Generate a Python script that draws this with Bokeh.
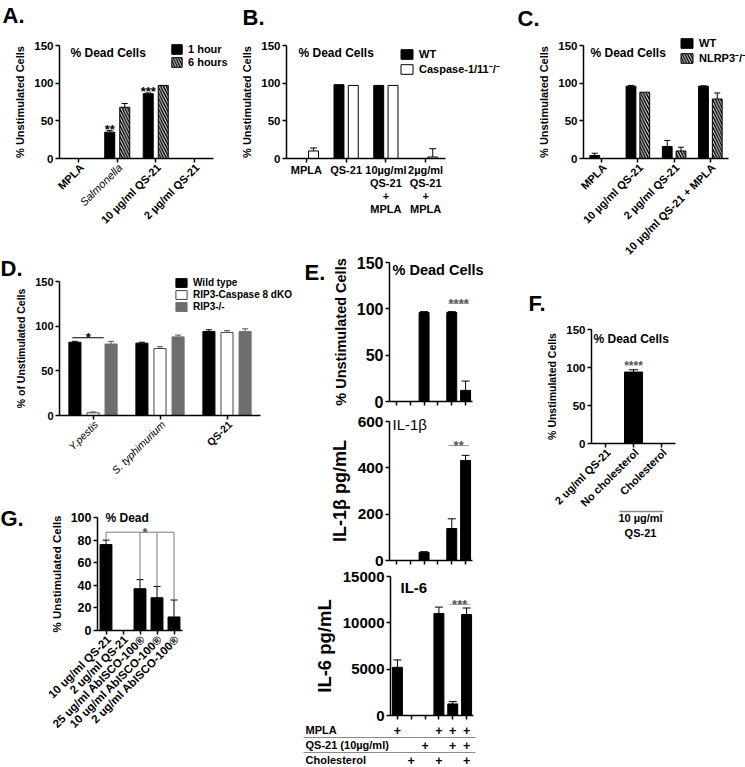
import math
from bokeh.plotting import figure
from bokeh.layouts import column, row
from bokeh.models import (ColumnDataSource, Range1d, Whisker, TeeHead, Legend, LegendItem,
                          FixedTicker)
from bokeh.embed import file_html
from bokeh.resources import INLINE
from bokeh.core.properties import value

FONT = "Liberation Sans"
ANG = math.pi / 4

# ---------------- data ----------------
a_cats = ["MPLA", "Salmonella", "10 µg/ml QS-21", "2 µg/ml QS-21"]
a_1h = [0, 35, 86, 0]
a_1h_err = [0, 2, 1, 0]
a_1h_sig = ["", "**", "***", ""]
a_6h = [0, 68, 97, 0]
a_6h_err = [0, 5, 0, 0]

b_cats = ["MPLA", "QS-21", "10µg/ml\nQS-21\n+\nMPLA", "2µg/ml\nQS-21\n+\nMPLA"]
b_wt = [0, 98, 97, 0]
b_wt_err = [0, 0, 0, 0]
b_casp = [10, 97, 97, 2]
b_casp_err = [4, 0, 0, 11]

c_cats = ["MPLA", "10 µg/ml QS-21", "2 µg/ml QS-21", "10 µg/ml QS-21 + MPLA"]
c_wt = [4, 96, 16, 96]
c_wt_err = [3, 1, 8, 0.5]
c_nlrp3 = [0, 88, 10, 79]
c_nlrp3_err = [0, 0, 5, 8]

d_cats = ["Y.pestis", "S. typhimurium", "QS-21"]
d_wt = [82, 81, 94]
d_wt_err = [1, 1, 2]
d_dko = [3, 75, 93]
d_dko_err = [1, 2, 2]
d_rip3 = [80, 88, 94]
d_rip3_err = [3, 2, 3]

e_cats = ["MPLA", "Cholesterol", "QS-21", "MPLA + Cholesterol", "MPLA + QS-21",
          "MPLA + QS-21 + Cholesterol"]
e_dead = [0, 0, 96, 0, 96, 12]
e_dead_err = [0, 0, 1, 0, 1, 10]
e_il1b = [0, 0, 35, 0, 138, 432]
e_il1b_err = [0, 0, 3, 0, 42, 22]
e_il6 = [5200, 0, 0, 11000, 1250, 10900]
e_il6_err = [800, 0, 0, 700, 250, 700]
e_rows = ["MPLA", "QS-21 (10µg/ml)", "Cholesterol"]
e_mpla = [1, 0, 0, 1, 1, 1]
e_qs21 = [0, 0, 1, 0, 1, 1]
e_chol = [0, 1, 0, 1, 0, 1]

f_cats = ["2 ug/ml QS-21", "No cholesterol", "Cholesterol"]
f_vals = [0, 94, 0]
f_err = [0, 3, 0]
f_sig = ["", "****", ""]
f_bracket = ["10 µg/ml", "QS-21"]

g_cats = ["10 ug/ml QS-21", "2 ug/ml QS-21", "25 ug/ml AbISCO-100®",
          "10 ug/ml AbISCO-100®", "2 ug/ml AbISCO-100®"]
g_vals = [76, 0, 37, 29, 12]
g_err = [4, 0, 8, 10, 15]


# ---------------- helpers ----------------
# geometry: (fig_x, fig_y, width, height, x of value-axis, category width px, y of zero, px per unit)
def mkfig(G, axes=True):
    fx, fy, w, h, X0, cw, Y0, s = G
    kw = dict(width=w, height=h, output_backend="svg", toolbar_location=None,
              x_range=Range1d((fx - X0) / cw, (fx + w - X0) / cw),
              y_range=Range1d((Y0 - (fy + h)) / s, (Y0 - fy) / s),
              min_border=0, min_border_left=0, min_border_right=0,
              min_border_top=0, min_border_bottom=0)
    if not axes:
        kw.update(x_axis_location=None, y_axis_location=None)
    p = figure(**kw)
    p.outline_line_color = None
    p.grid.visible = False
    p.background_fill_color = "white"
    p.border_fill_color = "white"
    try:
        p.frame_align = False
    except Exception:
        pass
    return p


def style_axes(p, n, ticks, ytick_sz, ylab, ylab_sz, lab_standoff=5):
    xa, ya = p.xaxis[0], p.yaxis[0]
    xa.fixed_location = 0
    ya.fixed_location = 0
    xa.bounds = (0, n)
    ya.bounds = (0, ticks[-1])
    xa.ticker = FixedTicker(ticks=[i + 0.5 for i in range(n)])
    ya.ticker = FixedTicker(ticks=ticks)
    for ax in (xa, ya):
        ax.axis_line_width = 1.5
        ax.axis_line_color = "black"
        ax.major_tick_line_width = 1.5
        ax.major_tick_line_color = "black"
        ax.major_tick_in = 0
        ax.major_tick_out = 4
        ax.minor_tick_line_color = None
        ax.major_label_text_font = FONT
        ax.major_label_text_font_style = "bold"
        ax.major_label_text_color = "black"
    xa.major_label_text_font_size = "0px"
    xa.major_label_standoff = 0
    ya.major_label_text_font_size = ytick_sz
    ya.major_label_standoff = 2
    ya.axis_label = ylab
    ya.axis_label_text_font = FONT
    ya.axis_label_text_font_style = "bold"
    ya.axis_label_text_font_size = ylab_sz
    ya.axis_label_text_color = "black"
    ya.axis_label_standoff = lab_standoff


def bars(p, vals, errs, off, width, fill, line="black", hatch=None, head=6, err_color="black"):
    n = len(vals)
    src = ColumnDataSource(dict(x=[i + 0.5 + off for i in range(n)], v=vals))
    kw = {}
    if hatch:
        kw.update(hatch_pattern=hatch, hatch_color="black", hatch_weight=1.6, hatch_scale=5.5)
    r = p.vbar(x="x", top="v", width=width, source=src, fill_color=fill, line_color=line,
               line_width=1, **kw)
    idx = [i for i, e in enumerate(errs) if e > 0]
    if idx:
        ws = ColumnDataSource(dict(x=[i + 0.5 + off for i in idx], v=[vals[i] for i in idx],
                                   up=[vals[i] + errs[i] for i in idx]))
        p.add_layout(Whisker(base="x", upper="up", lower="v", source=ws, dimension="height",
                             line_color=err_color, line_width=1,
                             upper_head=TeeHead(size=head, line_color=err_color, line_width=1),
                             lower_head=None))
    return r


def txt(p, G, X, Y, text, size, style="bold", align="left", baseline="top", color="black"):
    fx, fy, w, h, X0, cw, Y0, s = G
    p.text(x=[(X - X0) / cw], y=[(Y0 - Y) / s], text=[text], text_align=align,
           text_baseline=baseline, text_font=value(FONT), text_font_size=size,
           text_font_style=style, text_color=color)


def xlabels(p, G, cats, size, italic=(), dx=3, dy=7):
    fx, fy, w, h, X0, cw, Y0, s = G
    for i, c in enumerate(cats):
        p.text(x=[i + 0.5 + dx / cw], y=[-dy / s], text=[c], angle=ANG, text_align="right",
               text_baseline="middle", text_font=value(FONT), text_font_size=size,
               text_font_style="italic" if c in italic else "bold", text_color="black")


def sig(p, G, vals, errs, marks, off, size="13px", color="black", gap=1):
    s = G[7]
    idx = [i for i, m in enumerate(marks) if m]
    src = ColumnDataSource(dict(x=[i + 0.5 + off for i in idx],
                                y=[vals[i] + errs[i] + gap / s for i in idx],
                                t=[marks[i] for i in idx]))
    p.text(x="x", y="y", text="t", source=src, text_align="center", text_baseline="middle",
           text_font=value(FONT), text_font_size=size, text_font_style="bold", text_color=color)


def legend(p, G, items, X, Y, font_sz, gw, gh, spacing):
    fx, fy, w, h = G[:4]
    n = len(items)
    height = n * gh + (n - 1) * spacing
    leg = Legend(items=[LegendItem(label=l, renderers=[r]) for l, r in items],
                 location=(X - fx, (fy + h) - (Y + height)), orientation="vertical",
                 glyph_width=gw, glyph_height=gh, label_height=gh, spacing=spacing,
                 padding=0, margin=0, label_standoff=5, label_text_font=FONT,
                 label_text_font_style="bold", label_text_font_size=font_sz,
                 label_text_color="black", border_line_alpha=0, background_fill_alpha=0)
    p.add_layout(leg)


# ---------------- Panel A ----------------
GA = (0, 0, 235, 240, 59, 38.5, 158, 113 / 150)
pA = mkfig(GA)
style_axes(pA, 4, [0, 50, 100, 150], "11.5px", "% Unstimulated Cells", "11px")
rA1 = bars(pA, a_1h, a_1h_err, -0.195, 0.26, "black")
rA2 = bars(pA, a_6h, a_6h_err, 0.195, 0.26, "white", hatch="\\")
sig(pA, GA, a_1h, a_1h_err, a_1h_sig, -0.195)
xlabels(pA, GA, a_cats, "11px", italic=("Salmonella",))
legend(pA, GA, [("1 hour", rA1), ("6 hours", rA2)], 170, 43, "11px", 13, 12, 1)
txt(pA, GA, 70, 45, "% Dead Cells", "12px")
txt(pA, GA, 2, 2, "A.", "22px")

# ---------------- Panel B ----------------
GB = (235, 0, 280, 240, 286, 39.75, 158, 113 / 150)
pB = mkfig(GB)
style_axes(pB, 4, [0, 50, 100, 150], "11.5px", "% Unstimulated Cells", "11px")
rB1 = bars(pB, b_wt, b_wt_err, -0.18, 0.25, "black")
rB2 = bars(pB, b_casp, b_casp_err, 0.18, 0.25, "white", head=7)
for i, c in enumerate(b_cats):
    pB.text(x=[i + 0.5], y=[-5 / GB[7]], text=[c], text_align="center", text_baseline="top",
            text_line_height=1.1, text_font=value(FONT), text_font_size="11px",
            text_font_style="bold", text_color="black")
legend(pB, GB, [("WT", rB1), ("Caspase-1/11⁻/⁻", rB2)], 399, 51, "11px", 15, 12, 1)
txt(pB, GB, 298, 45, "% Dead Cells", "12px")
txt(pB, GB, 242, 4, "B.", "22px")

# ---------------- Panel C ----------------
GC = (515, 0, 230, 285, 583, 36.25, 158, 113 / 150)
pC = mkfig(GC)
style_axes(pC, 4, [0, 50, 100, 150], "11.5px", "% Unstimulated Cells", "11px")
rC1 = bars(pC, c_wt, c_wt_err, -0.19, 0.27, "black")
rC2 = bars(pC, c_nlrp3, c_nlrp3_err, 0.19, 0.27, "white", hatch="\\")
xlabels(pC, GC, c_cats, "11px")
legend(pC, GC, [("WT", rC1), ("NLRP3⁻/⁻", rC2)], 679, 40, "11px", 15, 12, 1)
txt(pC, GC, 590, 45, "% Dead Cells", "12px")
txt(pC, GC, 517, 5, "C.", "22px")

# ---------------- Panel D ----------------
GD = (0, 240, 300, 240, 59, 67, 415, 134 / 150)
pD = mkfig(GD)
style_axes(pD, 3, [0, 50, 100, 150], "11px", "% of Unstimulated Cells", "10.5px")
rD1 = bars(pD, d_wt, d_wt_err, -0.27, 0.18, "black")
rD2 = bars(pD, d_dko, d_dko_err, 0.0, 0.18, "white", line="#444444", err_color="#555555")
rD3 = bars(pD, d_rip3, d_rip3_err, 0.27, 0.18, "#6e6e6e", line="#6e6e6e",
           err_color="#555555")
pD.segment(x0=[0.5 - 0.31], y0=[87], x1=[0.5 + 0.16], y1=[87], line_color="black",
           line_width=1)
pD.text(x=[0.5 - 0.07], y=[87], text=["*"], text_align="center", text_baseline="middle",
        text_font=value(FONT), text_font_size="13px", text_font_style="bold",
        text_color="black")
xlabels(pD, GD, d_cats, "10.5px", italic=("Y.pestis", "S. typhimurium"))
legend(pD, GD, [("Wild type", rD1), ("RIP3-Caspase 8 dKO", rD2), ("RIP3-/-", rD3)],
       174, 277, "10px", 14, 11, 1)
txt(pD, GD, 0, 255, "D.", "22px")

# ---------------- Panel G ----------------
GG = (0, 480, 300, 286, 97, 17, 630, 113 / 100)
pG = mkfig(GG)
style_axes(pG, 5, [0, 20, 40, 60, 80, 100], "12.5px", "% Unstimulated Cells", "11.5px")
bars(pG, g_vals, g_err, 0.0, 0.7, "black", head=7)
yb = 87
tg = [0, 2, 3, 4]
pG.segment(x0=[i + 0.5 for i in tg], y0=[g_vals[i] + g_err[i] for i in tg],
           x1=[i + 0.5 for i in tg], y1=[yb] * len(tg), line_color="#7a7a7a", line_width=1)
pG.segment(x0=[0.5], y0=[yb], x1=[len(g_cats) - 0.5], y1=[yb], line_color="#7a7a7a",
           line_width=1)
pG.text(x=[2.5 + 0.3], y=[yb], text=["*"], text_align="center", text_baseline="middle",
        text_font=value(FONT), text_font_size="13px", text_font_style="bold",
        text_color="#555555")
xlabels(pG, GG, g_cats, "11.5px")
txt(pG, GG, 105, 510, "% Dead", "12px")
txt(pG, GG, 0, 505, "G.", "22px")

# ---------------- Panel E ----------------
ECW = 83 / 6
EW = 215


def e_panel(G, vals, errs, ticks, ylab, ylab_sz, tick_sz):
    p = mkfig(G)
    style_axes(p, 6, ticks, tick_sz, ylab, ylab_sz)
    bars(p, vals, errs, 0.0, 0.72, "black", head=8)
    return p


def e_bracket(p, y, stars):
    p.segment(x0=[4.5 - 0.25], y0=[y], x1=[5.5 + 0.25], y1=[y], line_color="#9a9a9a",
              line_width=1)
    p.text(x=[5.0], y=[y], text=[stars], text_align="center", text_baseline="middle",
           text_font=value(FONT), text_font_size="13px", text_font_style="bold",
           text_color="#555555")


GE1 = (300, 240, EW, 170, 389, ECW, 401, 139 / 150)
pE1 = e_panel(GE1, e_dead, e_dead_err, [0, 50, 100, 150], "% Unstimulated Cells", "14.5px",
              "16px")
e_bracket(pE1, 106, "****")
txt(pE1, GE1, 392, 261, "% Dead Cells", "14.5px")
txt(pE1, GE1, 304, 259, "E.", "22px")

GE2 = (300, 410, EW, 158, 389, ECW, 560, 139 / 600)
pE2 = e_panel(GE2, e_il1b, e_il1b_err, [0, 200, 400, 600], "IL-1β pg/mL", "18px", "15.5px")
e_bracket(pE2, 496, "**")
txt(pE2, GE2, 392, 415, "IL-1β", "15px", style="normal")

GE3 = (300, 568, EW, 155, 390, ECW, 715, 139 / 15000)
pE3 = e_panel(GE3, e_il6, e_il6_err, [0, 5000, 10000, 15000], "IL-6 pg/mL", "18.5px", "15px")
e_bracket(pE3, 12000, "***")
txt(pE3, GE3, 400, 578, "IL-6", "15px")

# condition table under panel E (y unit = one table row)
RP = 15
TB = 759.5
GT = (300, 723, EW, 44, 390, ECW, TB, RP)
pT = mkfig(GT, axes=False)
for k, (lbl, flags) in enumerate(zip(e_rows, [e_mpla, e_qs21, e_chol])):
    yc = len(e_rows) - 1 - k
    txt(pT, GT, 305, TB - yc * RP, lbl, "11px", baseline="middle")
    xs = [i + 0.5 for i, f in enumerate(flags) if f]
    pT.text(x=xs, y=[yc] * len(xs), text=["+"] * len(xs), text_align="center",
            text_baseline="middle", text_font=value(FONT), text_font_size="12.5px",
            text_font_style="bold", text_color="black")
pT.segment(x0=[(303 - 390) / ECW] * 2, y0=[1.5, 0.5], x1=[(475 - 390) / ECW] * 2,
           y1=[1.5, 0.5], line_color="#8a8a8a", line_width=1)

# ---------------- Panel F ----------------
GF = (515, 285, 230, 265, 591, 28, 443, 114 / 150)
pF = mkfig(GF)
style_axes(pF, 3, [0, 50, 100, 150], "11.5px", "% Unstimulated Cells", "10.5px")
bars(pF, f_vals, f_err, 0.0, 0.64, "black", head=9)
sig(pF, GF, f_vals, f_err, f_sig, 0.0, size="12px", color="#555555", gap=4)
xlabels(pF, GF, f_cats, "11px")
txt(pF, GF, 593, 331, "% Dead Cells", "12px")
txt(pF, GF, 528, 290, "F.", "22px")
sF = GF[7]
pF.segment(x0=[1.0], y0=[(443 - 511) / sF], x1=[2.57], y1=[(443 - 511) / sF],
           line_color="#8a8a8a", line_width=1.5)
pF.text(x=[1.75, 1.75], y=[(443 - 517) / sF, (443 - 532) / sF], text=f_bracket,
        text_align="center", text_baseline="middle", text_font=value(FONT),
        text_font_size="11px", text_font_style="bold", text_color="black")

# ---------------- layout ----------------
layout = row(
    column(row(pA, pB), row(column(pD, pG), column(pE1, pE2, pE3, pT))),
    column(pC, pF),
)

open("out.html", "w").write(file_html(layout, INLINE))
